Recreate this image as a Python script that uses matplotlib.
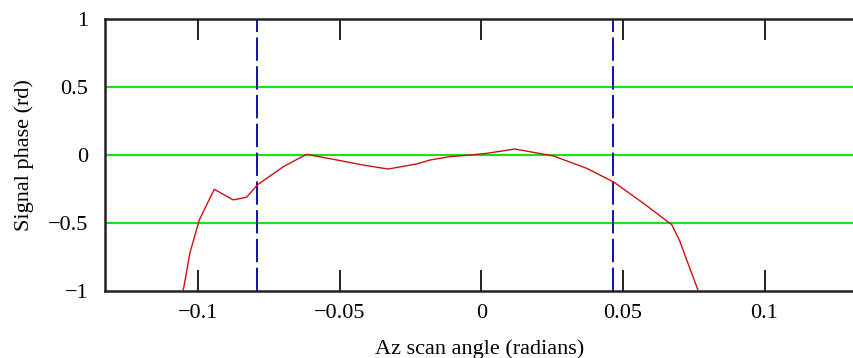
import matplotlib
matplotlib.use("Agg")
import matplotlib.pyplot as plt

# Data
x_vals = [-0.1054, -0.103, -0.0997, -0.0944, -0.0877, -0.083, -0.0792, -0.070,
          -0.0618, -0.051, -0.0418, -0.033, -0.0229, -0.0182, -0.0111, -0.0040,
          0.0018, 0.0118, 0.0254, 0.0372, 0.0468, 0.0572, 0.0672, 0.0700, 0.0725, 0.0766]
y_vals = [-1.0, -0.72, -0.478, -0.252, -0.33, -0.311, -0.22, -0.086,
          0.005, -0.037, -0.074, -0.103, -0.066, -0.037, -0.012, 0.0,
          0.012, 0.044, -0.007, -0.098, -0.200, -0.355, -0.512, -0.63, -0.772, -1.0]
markers_x = [-0.0794, 0.0466]
grid_y = [0.5, 0.0, -0.5]
x_ticks = [-0.1, -0.05, 0, 0.05, 0.1]
x_tick_labels = ["\u22120.1", "\u22120.05", "0", "0.05", "0.1"]
y_ticks = [-1, -0.5, 0, 0.5, 1]
y_tick_labels = ["\u22121", "\u22120.5", "0", "0.5", "1"]

plt.rcParams['font.family'] = ['Liberation Serif', 'DejaVu Serif']

fig = plt.figure(figsize=(8.54, 3.58), dpi=100)
ax = fig.add_axes([105/854, (358-291)/358, (854-105)/854, (291-19)/358])

for gy in grid_y:
    ax.axhline(gy, color='#22dd22', lw=1.6, zorder=1)
for mx in markers_x:
    ax.axvline(mx, color='#1010b0', lw=1.4, dashes=(12, 2.8), zorder=2)
ax.plot(x_vals, y_vals, color='#cc1111', lw=1.0, zorder=3)

ax.set_xlim(-0.133, 0.1316)
ax.set_ylim(-1, 1)
ax.set_xticks(x_ticks)
ax.set_xticklabels(x_tick_labels)
ax.set_yticks(y_ticks)
ax.set_yticklabels(y_tick_labels)
ax.tick_params(axis='x', direction='in', length=15, width=1.4, top=True,
               labelsize=16, pad=9, color='#222222')
ax.tick_params(axis='y', length=0, labelsize=16, pad=12)
for side in ['left', 'bottom', 'top']:
    ax.spines[side].set_linewidth(1.8)
    ax.spines[side].set_color('#222222')
ax.spines['right'].set_visible(False)

ax.set_xlabel("Az scan angle (radians)", fontsize=16, labelpad=12)
ax.set_ylabel("Signal phase (rd)", fontsize=16, labelpad=10)

fig.savefig("out.png", dpi=100)
